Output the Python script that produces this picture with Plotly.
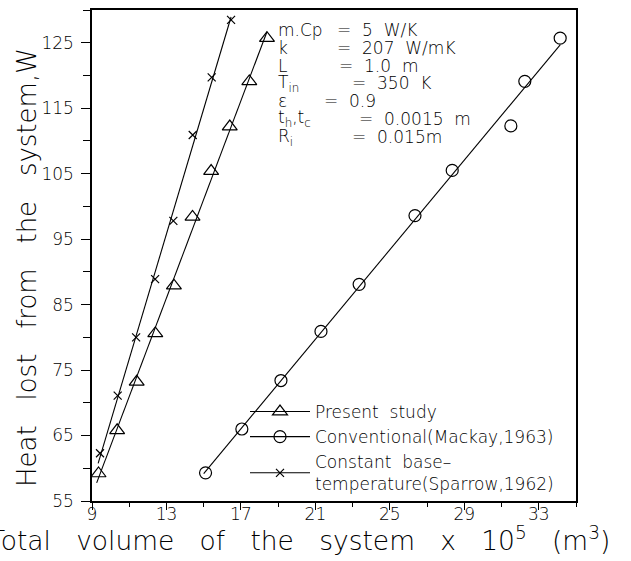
import numpy as np
import plotly.graph_objects as go

# ---------------- data ----------------
present_x = [9.35, 10.35, 11.4, 12.4, 13.4, 14.4, 15.4, 16.4, 17.45, 18.4]
present_y = [59.2, 65.8, 73.2, 80.6, 87.9, 98.4, 105.4, 112.2, 119.1, 125.7]

conv_x = [15.1, 17.05, 19.15, 21.3, 23.35, 26.35, 28.35, 31.5, 32.25, 34.15]
conv_y = [59.3, 66.0, 73.4, 80.9, 88.1, 98.6, 105.5, 112.3, 119.1, 125.7]

sparrow_x = [9.43, 10.38, 11.37, 12.39, 13.37, 14.41, 15.43, 16.47]
sparrow_y = [62.3, 71.1, 80.0, 88.9, 97.8, 110.9, 119.7, 128.5]

series_names = ["Present\u00a0\u00a0study",
                "Conventional(Mackay,1963)",
                "Constant\u00a0\u00a0base\u2013<br>temperature(Sparrow,1962)"]

param_labels = ["m.Cp", "k", "L", "T<sub>in</sub>", "\u03b5",
                "t<sub>h</sub>,t<sub>c</sub>", "R<sub>i</sub>"]
param_values = ["5\u00a0\u00a0W/K", "207\u00a0\u00a0W/mK", "1.0\u00a0\u00a0m", "350\u00a0\u00a0K",
                "0.9", "0.0015\u00a0\u00a0m", "0.015m"]

G = "\u00a0\u00a0\u00a0"
x_title = ("Total" + G + "volume" + G + "of" + G + "the" + G + "system" + G + "x" + G +
           "10<sup>5</sup>" + G + "(m<sup>3</sup>)")
y_title = "Heat" + G + "lost" + G + "from" + G + "the" + G + "system,W"

# ---------------- layout helpers ----------------
W, H = 631, 561
ML, MR, MT, MB = 92, 55, 10, 60
PW, PH = W - ML - MR, H - MT - MB
FONT = "DejaVu Sans"
WT = 200


def px2paper(px, py):
    return (px - ML) / PW, (H - MB - py) / PH


def tfont(size):
    return dict(family=FONT, size=size, color="black", weight=WT)


fig = go.Figure()

symbols = ["triangle-up-open", "circle-open", "x-thin-open"]
sizes = [13, 12, 8]
datasets = [(present_x, present_y), (conv_x, conv_y), (sparrow_x, sparrow_y)]

for (xs, ys), sym, sz, name in zip(datasets, symbols, sizes, series_names):
    xs = np.asarray(xs)
    ys = np.asarray(ys)
    k, b = np.polyfit(xs, ys, 1)
    lx = np.array([xs.min() - 0.1, xs.max()])
    fig.add_trace(go.Scatter(x=lx, y=k * lx + b, mode="lines",
                             line=dict(color="black", width=1.1),
                             showlegend=False, hoverinfo="skip"))
    fig.add_trace(go.Scatter(x=xs, y=ys, mode="markers",
                             marker=dict(symbol=sym, size=sz, color="black",
                                         line=dict(color="black", width=1.2)),
                             showlegend=False))
    # legend entry
    fig.add_trace(go.Scatter(x=[None], y=[None], mode="lines+markers", name=name,
                             line=dict(color="black", width=1.1),
                             marker=dict(symbol=sym, size=sz, color="black",
                                         line=dict(color="black", width=1.2))))

# parameter block
eq_px = [335, 335, 337, 350, 322, 357, 350]
row_py = [30, 48, 66, 83, 101, 119, 137]
for lab, val, ex, ry in zip(param_labels, param_values, eq_px, row_py):
    lx_, ly_ = px2paper(276, ry)
    fig.add_annotation(x=lx_, y=ly_, xref="paper", yref="paper", text=lab,
                       showarrow=False, xanchor="left", yanchor="middle",
                       font=tfont(17))
    ex_, ey_ = px2paper(ex, ry)
    fig.add_annotation(x=ex_, y=ey_, xref="paper", yref="paper",
                       text="=\u00a0\u00a0" + val,
                       showarrow=False, xanchor="left", yanchor="middle",
                       font=tfont(17))

# axis titles as annotations
tx, ty = px2paper(299, 539)
fig.add_annotation(x=tx, y=ty, xref="paper", yref="paper", text=x_title,
                   showarrow=False, xanchor="center", yanchor="middle",
                   font=tfont(26.5))
yx, yy = px2paper(27, 268)
fig.add_annotation(x=yx, y=yy, xref="paper", yref="paper", text=y_title,
                   showarrow=False, xanchor="center", yanchor="middle", textangle=-90,
                   font=tfont(26))

lgx, lgy = px2paper(245, 502)
fig.update_layout(
    width=W, height=H,
    margin=dict(l=ML, r=MR, t=MT, b=MB, autoexpand=False),
    paper_bgcolor="white", plot_bgcolor="white",
    font=tfont(17),
    legend=dict(x=lgx, y=lgy, xanchor="left", yanchor="bottom",
                bgcolor="rgba(0,0,0,0)", font=tfont(17),
                itemwidth=60, tracegroupgap=0, traceorder="normal"),
    xaxis=dict(range=[9, 35], tick0=9, dtick=4, ticks="outside", ticklen=7, tickwidth=1.3,
               tickcolor="black", showline=True, linecolor="black", linewidth=1.5,
               mirror=True, showgrid=False, zeroline=False,
               tickfont=tfont(17),
               ticklabelstandoff=-10,
               minor=dict(dtick=2, tick0=9, ticks="outside", ticklen=4,
                          tickcolor="black", tickwidth=1.2, showgrid=False)),
    yaxis=dict(range=[55, 130], tick0=55, dtick=10, ticks="outside", ticklen=9, tickwidth=1.3,
               tickcolor="black", showline=True, linecolor="black", linewidth=1.5,
               mirror=True, showgrid=False, zeroline=False,
               tickfont=tfont(17),
               ticklabelstandoff=4,
               minor=dict(dtick=5, tick0=55, ticks="outside", ticklen=7,
                          tickcolor="black", tickwidth=1.2, showgrid=False)),
)

fig.write_html("out.html")
